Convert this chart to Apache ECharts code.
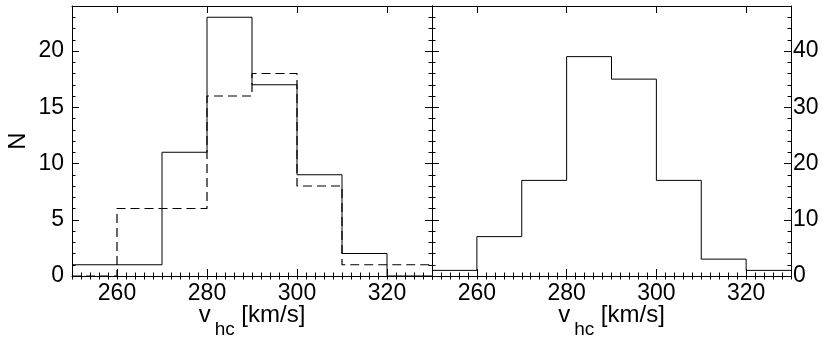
<!DOCTYPE html>
<html>
<head>
<meta charset="utf-8">
<script src="https://cdn.jsdelivr.net/npm/echarts@6/dist/echarts.min.js"></script>
<style>
  html, body { margin: 0; padding: 0; background: #fff; }
  #chart { width: 830px; height: 344px; }
</style>
</head>
<body>
<div id="chart"></div>
<script>
// histogram bins (left edge of each bin), last edge closes the last bin
const binStarts = [250, 260, 270, 280, 290, 300, 310, 320];
const binEnd = 330;
const countSolid = [1, 1, 11, 23, 17, 9, 2, 0];   // left panel, solid
const countDashed = [0, 6, 6, 16, 18, 8, 1, 1];   // left panel, dashed
const countTotal = [1, 7, 17, 39, 35, 17, 3, 1];  // right panel
const xTicks = [260, 280, 300, 320];
const yTicksLeft = [0, 5, 10, 15, 20];
const yTicksRight = [0, 10, 20, 30, 40];

const FONT = 'Liberation Sans';
const INK = '#000';

// turn counts into step points (bin start, count), closing at binEnd
function stepData(vals) {
  const d = binStarts.map((x, i) => [x, vals[i]]);
  d.push([binEnd, vals[vals.length - 1]]);
  return d;
}

// major axis: line + long ticks at custom values, optional labels
function majorAxis(extra) {
  return Object.assign({
    type: 'value',
    axisLine: { show: true, onZero: false, lineStyle: { color: INK, width: 1 } },
    axisTick: { show: true, inside: true, length: 7, lineStyle: { color: INK, width: 1 } },
    axisLabel: { show: false },
    splitLine: { show: false }
  }, extra);
}

// minor axis: only short ticks every `step`
function minorAxis(extra, step) {
  return Object.assign({
    type: 'value',
    interval: step,
    axisLine: { show: false },
    axisTick: { show: true, inside: true, length: 3.5, lineStyle: { color: INK, width: 1 } },
    axisLabel: { show: false },
    splitLine: { show: false }
  }, extra);
}

const xName = {
  name: '{m|v}{s|hc}{m| [km/s]}',
  nameLocation: 'middle',
  nameGap: 27,
  nameMoveOverlap: false,
  nameTextStyle: {
    rich: {
      m: { fontFamily: FONT, fontSize: 24, color: INK, lineHeight: 26, verticalAlign: 'top' },
      s: { fontFamily: FONT, fontSize: 19, color: INK, lineHeight: 20, verticalAlign: 'top', padding: [17, 0, 0, 4] }
    }
  }
};

const xLabel = {
  show: true, customValues: xTicks, fontFamily: FONT, fontSize: 23, color: INK, margin: 6
};

const xAxes = [];
const yAxes = [];
[0, 1].forEach(g => {
  xAxes.push(majorAxis(Object.assign({
    gridIndex: g, min: 250, max: 330, position: 'bottom',
    axisTick: { show: true, inside: true, length: 7, customValues: xTicks, lineStyle: { color: INK, width: 1 } },
    axisLabel: xLabel
  }, xName)));
  xAxes.push(minorAxis({ gridIndex: g, min: 250, max: 330, position: 'bottom' }, 2));
  xAxes.push(majorAxis({
    gridIndex: g, min: 250, max: 330, position: 'top',
    axisTick: { show: true, inside: true, length: 7, customValues: xTicks, lineStyle: { color: INK, width: 1 } }
  }));
  xAxes.push(minorAxis({ gridIndex: g, min: 250, max: 330, position: 'top' }, 2));
});

// left panel y axes (0..24)
yAxes.push(majorAxis({
  gridIndex: 0, min: 0, max: 24, position: 'left',
  axisTick: { show: true, inside: true, length: 7, customValues: yTicksLeft, lineStyle: { color: INK, width: 1 } },
  axisLabel: { show: true, customValues: yTicksLeft, fontFamily: FONT, fontSize: 23, color: INK, margin: 8 },
  name: 'N', nameLocation: 'middle', nameGap: 42, nameMoveOverlap: false,
  nameTextStyle: { fontFamily: FONT, fontSize: 24, color: INK }
}));
yAxes.push(minorAxis({ gridIndex: 0, min: 0, max: 24, position: 'left' }, 1));
yAxes.push(majorAxis({
  gridIndex: 0, min: 0, max: 24, position: 'right',
  axisTick: { show: true, inside: true, length: 7, customValues: yTicksLeft, lineStyle: { color: INK, width: 1 } }
}));
yAxes.push(minorAxis({ gridIndex: 0, min: 0, max: 24, position: 'right' }, 1));

// right panel y axes (0..48)
yAxes.push(majorAxis({
  gridIndex: 1, min: 0, max: 48, position: 'left',
  axisTick: { show: true, inside: true, length: 7, customValues: yTicksRight, lineStyle: { color: INK, width: 1 } }
}));
yAxes.push(minorAxis({ gridIndex: 1, min: 0, max: 48, position: 'left' }, 2));
yAxes.push(majorAxis({
  gridIndex: 1, min: 0, max: 48, position: 'right',
  axisTick: { show: true, inside: true, length: 7, customValues: yTicksRight, lineStyle: { color: INK, width: 1 } },
  axisLabel: { show: true, customValues: yTicksRight, fontFamily: FONT, fontSize: 23, color: INK, margin: 2 }
}));
yAxes.push(minorAxis({ gridIndex: 1, min: 0, max: 48, position: 'right' }, 2));

const chart = echarts.init(document.getElementById('chart'), null, { renderer: 'canvas' });

chart.setOption({
  animation: false,
  backgroundColor: '#fff',
  grid: [
    { left: 72, top: 6, width: 360, bottom: 68, containLabel: false, outerBoundsMode: 'none' },
    { left: 432, top: 6, right: 39, bottom: 68, containLabel: false, outerBoundsMode: 'none' }
  ],
  xAxis: xAxes,
  yAxis: yAxes,
  series: [
    {
      name: 'solid', type: 'line', step: 'end', xAxisIndex: 0, yAxisIndex: 0,
      data: stepData(countSolid), symbol: 'none',
      lineStyle: { color: INK, width: 1 }
    },
    {
      name: 'dashed', type: 'line', step: 'end', xAxisIndex: 0, yAxisIndex: 0,
      data: stepData(countDashed), symbol: 'none',
      lineStyle: { color: INK, width: 1.2, type: [9, 5] }
    },
    {
      name: 'total', type: 'line', step: 'end', xAxisIndex: 4, yAxisIndex: 4,
      data: stepData(countTotal), symbol: 'none',
      lineStyle: { color: INK, width: 1 }
    }
  ]
});
</script>
</body>
</html>
